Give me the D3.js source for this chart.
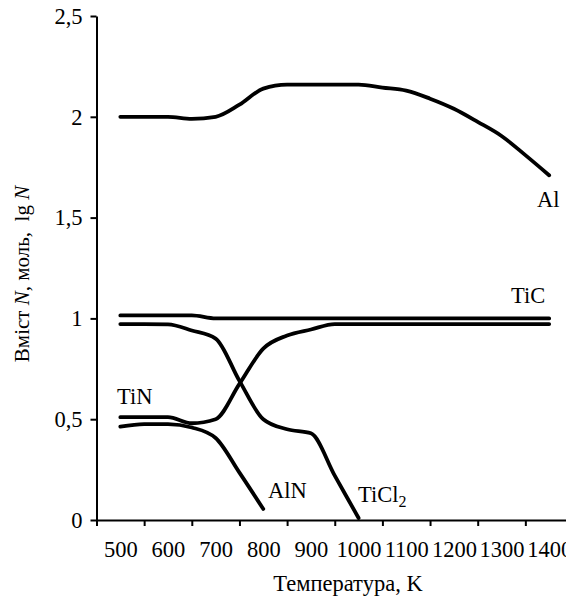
<!DOCTYPE html>
<html>
<head>
<meta charset="utf-8">
<script src="https://cdn.jsdelivr.net/npm/d3@7"></script>
<style>
  body { margin: 0; background: #fff; }
  svg text { font-family: "Liberation Serif", "Times New Roman", serif; fill: #000; }
</style>
</head>
<body>
<div id="chart"></div>
<script>
'use strict';

// temperatures (K) the curves are sampled at
const temps   = [500, 550, 600, 650, 700, 750, 800, 850, 900, 950, 1000, 1050, 1100, 1150, 1200, 1250, 1300, 1350, 1400];
const alVals  = [2.0, 2.0, 2.0, 1.99, 2.0, 2.06, 2.14, 2.16, 2.16, 2.16, 2.16, 2.145, 2.13, 2.09, 2.04, 1.975, 1.905, 1.81, 1.71];
const ticVals = [1.015, 1.015, 1.015, 1.015, 1.0, 1.0, 1.0, 1.0, 1.0, 1.0, 1.0, 1.0, 1.0, 1.0, 1.0, 1.0, 1.0, 1.0, 1.0];
const tinVals = [0.51, 0.51, 0.51, 0.48, 0.5, 0.675, 0.85, 0.915, 0.945, 0.972, 0.972, 0.972, 0.972, 0.972, 0.972, 0.972, 0.972, 0.972, 0.972];
const ticl2Temps = [500, 550, 600, 650, 700, 750, 800, 850, 900, 950, 1000];
const ticl2Vals  = [0.972, 0.972, 0.97, 0.94, 0.9, 0.69, 0.5, 0.45, 0.43, 0.22, 0.01];
const alnTemps = [500, 550, 600, 650, 700, 750, 800];
const alnVals  = [0.463, 0.476, 0.476, 0.459, 0.407, 0.235, 0.055];

const xTickLabels = [500, 600, 700, 800, 900, 1000, 1100, 1200, 1300, 1400];
const xTickMarks  = [450, 550, 650, 750, 850, 950, 1050, 1150, 1250, 1350, 1450];
const yTicks = [0, 0.5, 1, 1.5, 2, 2.5];

const width = 566, height = 599;
const font = '"Liberation Serif", "Times New Roman", serif';
const fs = '22.5px';
const svg = d3.select('#chart').append('svg').attr('width', width).attr('height', height);

let x = d3.scaleLinear().domain([450, 1450]).range([96.5, 573]);
let y = d3.scaleLinear().domain([0, 2.5]).range([520, 16]);

//axes
const comma = d => String(d).replace('.', ',');

let gy = svg.append('g').attr('transform', 'translate(96.5,0)')
  .call(d3.axisLeft(y).tickValues(yTicks).tickFormat(comma).tickSize(6).tickSizeOuter(0).tickPadding(8));
gy.attr('font-family', font);
gy.selectAll('text').style('font-size', fs);

let gx = svg.append('g').attr('transform', 'translate(0,520)')
  .call(d3.axisBottom(x).tickValues(xTickMarks).tickFormat('').tickSize(6).tickSizeOuter(0));

let gxl = svg.append('g').attr('transform', 'translate(0,520)')
  .call(d3.axisBottom(x).tickValues(xTickLabels).tickFormat(d3.format('d')).tickSize(0).tickPadding(21));
gxl.attr('font-family', font);
gxl.select('.domain').remove();
gxl.selectAll('text').style('font-size', fs);

svg.selectAll('.domain, .tick line').attr('stroke', '#000').attr('stroke-width', 2);

//series
let line = d3.line()
  .x(d => x(d[0]))
  .y(d => y(d[1]))
  .curve(d3.curveMonotoneX);

const series = [
  d3.zip(temps, alVals),
  d3.zip(temps, ticVals),
  d3.zip(temps, tinVals),
  d3.zip(ticl2Temps, ticl2Vals),
  d3.zip(alnTemps, alnVals)
];
svg.append('g').selectAll('path').data(series).join('path')
  .attr('fill', 'none').attr('stroke', '#000').attr('stroke-width', 3.8)
  .attr('stroke-linejoin', 'round').attr('stroke-linecap', 'round')
  .attr('d', line);

//curve labels
const lab = (tx, ty, s) => svg.append('text').attr('x', tx).attr('y', ty)
  .attr('font-family', font).style('font-size', fs).text(s);
lab(537, 207, 'Al');
lab(511, 303, 'TiC');
lab(117, 404, 'TiN');
lab(268, 498, 'AlN');
let t2 = lab(358, 502, 'TiCl');
t2.append('tspan').attr('dy', 5).style('font-size', '16px').text('2');

//axis titles
svg.append('text').attr('x', 348).attr('y', 591).attr('text-anchor', 'middle')
  .attr('font-family', font).style('font-size', fs).text('Температура, K');

let yt = svg.append('text').attr('transform', 'translate(29,274) rotate(-90)')
  .attr('text-anchor', 'middle').attr('font-family', font).style('font-size', '21px');
yt.append('tspan').text('Вміст ');
yt.append('tspan').style('font-style', 'italic').text('N');
yt.append('tspan').text(', моль,\u00a0 lg ');
yt.append('tspan').style('font-style', 'italic').text('N');
</script>
</body>
</html>
